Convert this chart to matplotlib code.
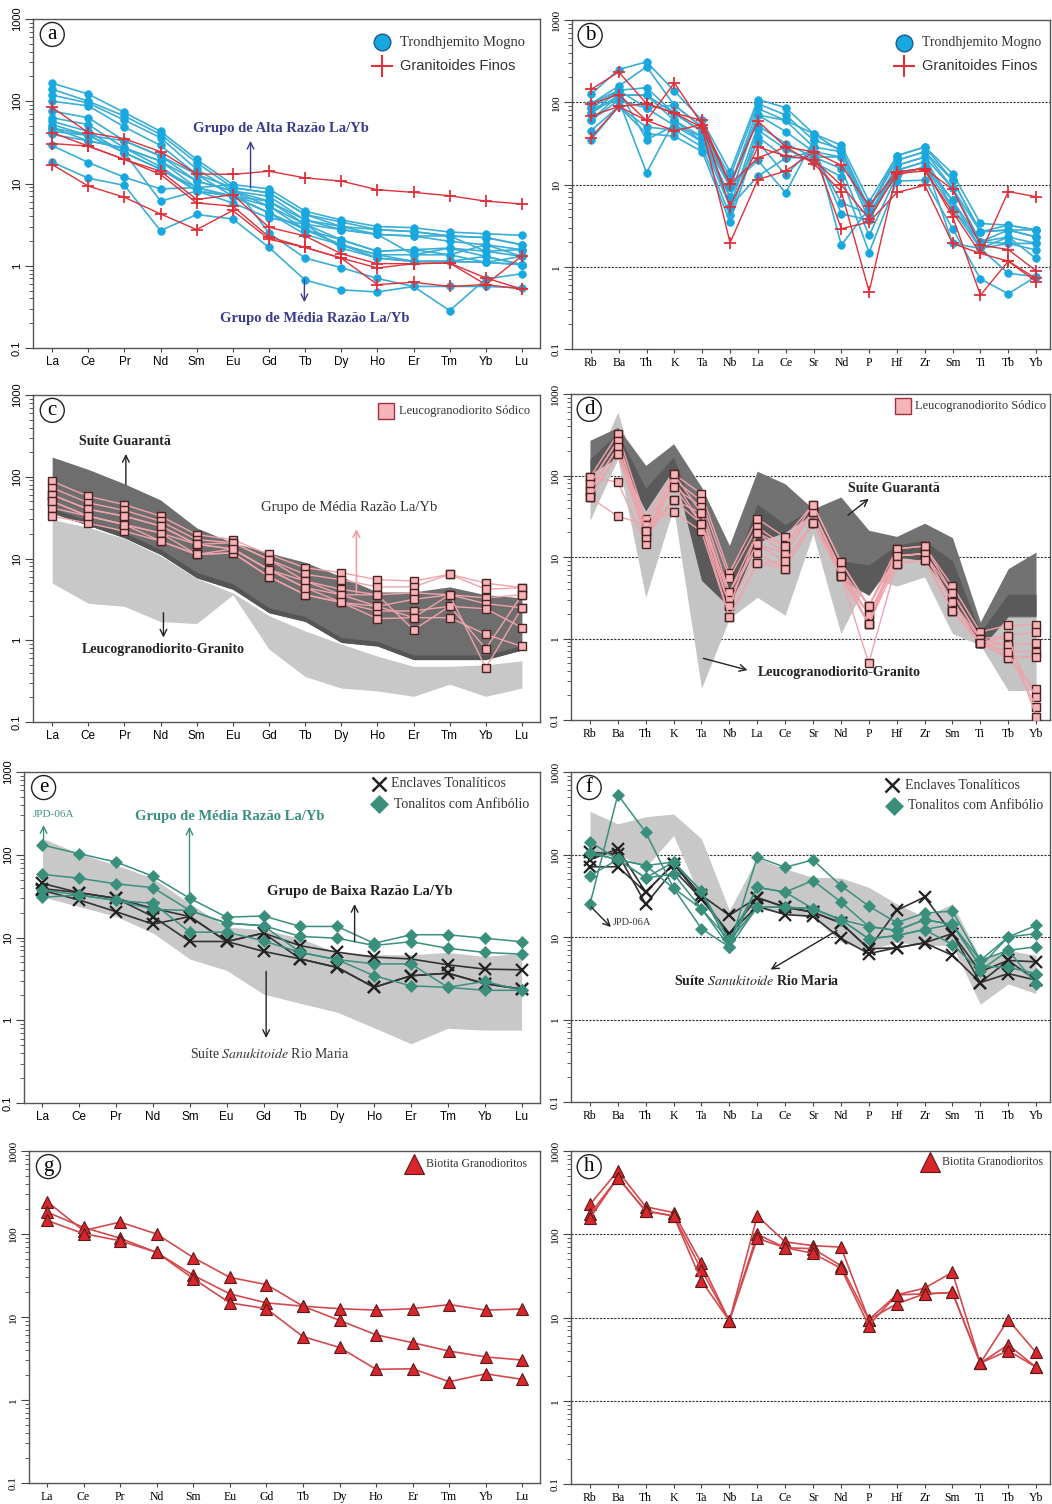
import matplotlib
matplotlib.use('Agg')
import matplotlib.pyplot as plt
from matplotlib.ticker import LogLocator, NullFormatter

# ---------------- categories ----------------
REE = ['La', 'Ce', 'Pr', 'Nd', 'Sm', 'Eu', 'Gd', 'Tb', 'Dy', 'Ho', 'Er', 'Tm', 'Yb', 'Lu']
SPIDER = ['Rb', 'Ba', 'Th', 'K', 'Ta', 'Nb', 'La', 'Ce', 'Sr', 'Nd', 'P', 'Hf', 'Zr', 'Sm', 'Ti', 'Tb', 'Yb']
YTICKS = [0.1, 1, 10, 100, 1000]
YTICKLABELS = ['0.1', '1', '10', '100', '1000']

# ---------------- (a) REE: Trondhjemito Mogno / Granitoides Finos ----------------
a_mogno = [
    [166, 122, 73, 43, 19.6, 9.7, 8.6, 4.6, 3.6, 3.0, 2.9, 2.57, 2.45, 2.34],
    [140, 100, 66, 39.5, 17.9, 8.9, 7.7, 4.2, 3.4, 2.75, 2.6, 2.3, 2.2, 1.8],
    [119, 95, 59, 36, 14.9, 8.1, 7.0, 3.6, 3.0, 2.4, 2.3, 1.98, 1.8, 1.57],
    [100, 88, 48.6, 29, 12.9, 7.0, 6.1, 3.2, 2.75, 2.4, 2.3, 2.3, 1.5, 1.3],
    [76, 63, 33, 21.6, 10.7, 8.1, 5.3, 2.75, 2.07, 1.5, 1.57, 1.64, 1.3, 1.03],
    [63, 52, 27, 18.7, 8.9, 7.0, 4.4, 2.4, 1.8, 1.36, 1.36, 1.36, 1.1, 1.03],
    [57, 43, 23.7, 14.9, 8.1, 5.8, 3.8, 3.2, 1.64, 1.24, 1.13, 1.13, 1.1, 1.3],
    [52, 38.5, 33, 21.6, 12.9, 8.9, 7.7, 4.2, 3.0, 2.75, 2.6, 2.3, 2.2, 1.8],
    [47.5, 33, 27, 18.7, 10.7, 8.1, 6.1, 3.6, 2.75, 2.4, 1.36, 1.64, 1.5, 1.57],
    [43, 38.5, 23.7, 14.9, 8.9, 7.0, 5.3, 3.2, 2.07, 1.5, 1.57, 1.36, 1.8, 1.3],
    [39.5, 33, 27, 16, 8.1, 7.0, 4.4, 2.75, 1.8, 1.36, 1.13, 1.13, 1.3, 1.03],
    [29, 18, 11.9, 8.6, 8.9, 9.7, 2.5, 1.24, 0.95, 0.7, 0.56, 0.285, 0.69, 0.8],
    [18.2, 11.6, 9.5, 2.67, 4.2, 3.7, 1.67, 0.67, 0.51, 0.48, 0.56, 0.56, 0.56, 0.54],
    [47.5, 38.5, 23.7, 6.1, 8.1, 7.0, 4.4, 2.75, 1.8, 1.24, 1.13, 1.13, 1.1, 1.03],
]
a_finos = [
    [84, 41.5, 35, 24.4, 13.1, 12.9, 14.1, 11.7, 10.7, 8.4, 7.8, 7.1, 6.1, 5.65],
    [41.5, 28.5, 19.6, 14.1, 6.4, 7.3, 2.93, 2.3, 1.4, 1.06, 1.06, 1.08, 0.71, 0.52],
    [30.6, 28.5, 19.6, 12.9, 5.8, 5.3, 2.24, 1.67, 1.24, 0.94, 1.06, 1.08, 0.59, 1.32],
    [17, 9.3, 6.8, 4.26, 2.75, 4.7, 2.1, 1.67, 1.24, 0.59, 0.63, 0.56, 0.59, 0.52],
]

# ---------------- (b) spider: Trondhjemito Mogno / Granitoides Finos ----------------
b_mogno = [
    [125, 250, 310, 137, 60, 14.3, 108, 86, 41.5, 29.9, 6.2, 22.4, 28.6, 13.6, 3.36, 3.2, 2.8],
    [96, 157, 270, 92, 50, 12.4, 96, 70, 34.6, 27, 5.1, 19.7, 25, 11.3, 2.66, 2.8, 2.3],
    [84, 140, 150, 73, 44, 9.4, 84, 60, 28.6, 25, 4.4, 17.1, 21.6, 9, 2.01, 2.3, 1.92],
    [73, 122, 122, 60, 38, 7.1, 70, 44, 25, 21.6, 3.7, 14.9, 18.8, 6.4, 1.67, 1.92, 1.6],
    [60, 106, 85, 52, 33, 5.4, 52, 31.4, 21.6, 15.6, 2.4, 13, 16.4, 5.1, 1.67, 2.3, 1.26],
    [45, 89, 50, 46, 28.6, 4.2, 46, 27, 18.8, 12.4, 1.49, 11, 11.3, 2.9, 0.71, 0.47, 0.76],
    [35, 89, 41.5, 38.6, 25, 3.5, 38, 21, 25, 6.0, 4.4, 14.9, 18.8, 1.92, 1.67, 0.83, 0.76],
    [84, 106, 13.9, 60, 33, 7.1, 33, 13, 28.6, 4.4, 3.7, 17.1, 21.6, 5.1, 2.01, 2.8, 2.3],
    [73, 140, 35, 52, 38, 9.4, 19.7, 7.9, 34.6, 1.83, 5.1, 19.7, 25, 9, 2.66, 3.2, 2.8],
    [60, 122, 122, 73, 44, 5.4, 12.6, 21, 21.6, 21.6, 4.4, 13, 16.4, 6.4, 2.01, 1.92, 1.92],
    [96, 140, 85, 92, 50, 9.4, 70, 60, 41.5, 25, 5.1, 22.4, 28.6, 11.3, 2.66, 2.8, 2.8],
]
b_finos = [
    [143, 233, 96, 74, 60, 10.1, 59, 28.6, 25, 17.1, 5.5, 14.3, 15.6, 8.7, 1.83, 1.62, 0.89],
    [96, 124, 60, 172, 53.6, 5.4, 28.6, 22.2, 20, 9.8, 3.86, 13.6, 14.6, 4.66, 1.45, 8.2, 7.1],
    [68, 89, 96, 74, 49, 1.96, 11.5, 14.6, 25, 2.9, 3.5, 8.0, 9.8, 1.92, 1.45, 1.17, 0.72],
    [37, 89, 60, 45, 53.6, 10.1, 21, 28.6, 18, 8.2, 0.50, 14.3, 15.6, 4.06, 0.45, 1.17, 0.66],
]

# ---------------- (c) REE: Leucogranodiorito Sodico + fields ----------------
c_guaranta_hi = [174, 123, 82, 52, 23.7, 15.6, 11.7, 9.0, 6.0, 3.9, 3.9, 4.5, 3.6, 3.3]
c_guaranta_lo = [36, 25.5, 17.9, 11.2, 5.8, 4.2, 2.17, 1.7, 0.94, 0.85, 0.58, 0.58, 0.58, 0.76]
c_guaranta_base = [41, 29, 20.5, 13, 6.8, 4.9, 2.5, 1.95, 1.08, 0.97, 0.66, 0.66, 0.66, 0.86]
c_leuco_hi = [30, 24, 17.5, 10.8, 5.7, 3.8, 2.0, 1.3, 0.9, 0.64, 0.48, 0.48, 0.5, 0.56]
c_leuco_lo = [5.0, 2.83, 2.6, 1.69, 1.6, 3.6, 0.78, 0.36, 0.26, 0.24, 0.206, 0.29, 0.206, 0.26]
c_sodico = [
    [88, 57.6, 45.6, 33, 19.6, 17, 11.2, 7.7, 6.7, 5.5, 5.3, 6.4, 5.0, 4.4],
    [73, 48, 38.8, 28.6, 17, 15.6, 9.7, 6.4, 5.5, 4.5, 4.5, 6.4, 4.2, 4.4],
    [60, 40, 33, 25, 14.9, 13.1, 7.3, 5.3, 4.2, 3.6, 3.8, 3.6, 3.3, 3.6],
    [50, 33, 26, 20.5, 14.9, 13.1, 7.3, 4.4, 3.6, 2.6, 3.16, 3.6, 2.8, 2.5],
    [41.5, 33, 26, 20.5, 11.2, 11.7, 6.0, 3.6, 2.9, 2.28, 2.28, 2.6, 2.43, 1.43],
    [33, 27, 21.6, 16.3, 11.2, 11.7, 6.0, 3.6, 2.9, 1.84, 1.89, 1.89, 1.18, 0.84],
    [60, 40, 33, 25, 14.9, 15.6, 9.7, 5.3, 3.6, 3.6, 1.34, 2.6, 0.79, 3.6],
    [50, 33, 26, 16.3, 11.2, 13.1, 7.3, 4.4, 2.9, 2.6, 1.89, 3.6, 0.46, 2.5],
]

# ---------------- (d) spider: Leucogranodiorito Sodico + fields ----------------
d_guaranta_hi = [270, 390, 133, 245, 72, 13.9, 113, 79, 39, 54.5, 21.3, 17.9, 26, 17.3, 1.6, 7.2, 11.5]
d_guaranta_lo = [105, 167, 37, 139, 5.2, 2.44, 15.2, 20.2, 34, 5.2, 3.4, 10, 9.1, 3.2, 0.75, 1.84, 1.84]
d_core_hi = [160, 330, 70, 170, 20, 5.0, 45, 25, 40, 9.0, 8.0, 14, 16, 9.0, 1.2, 3.5, 3.5]
d_core_lo = [105, 170, 37, 120, 5.2, 2.44, 15.2, 20.2, 34, 5.5, 3.4, 10, 9.1, 3.2, 0.75, 1.9, 1.9]
d_leuco_hi = [100, 600, 40, 175, 40, 3.5, 45, 22, 38, 10, 6, 12, 12, 9, 1.1, 2.0, 2.0]
d_leuco_lo = [28, 160, 3.2, 40, 0.245, 1.76, 3.2, 1.93, 19.3, 1.15, 5.5, 4.4, 5.7, 1.15, 0.83, 0.23, 0.23]
d_sodico = [
    [95, 325, 29.5, 105, 59.5, 6.4, 29.5, 17.5, 44, 8.7, 2.5, 12.6, 13.6, 4.4, 1.2, 1.46, 1.46],
    [79, 268, 25, 89, 48.5, 5.5, 23.3, 13.6, 36, 7.0, 1.97, 10.3, 11, 3.6, 1.0, 1.07, 1.2],
    [65, 222, 21, 73, 41, 3.7, 19.7, 11, 36, 5.9, 1.5, 10.3, 11, 2.8, 0.87, 0.83, 0.88],
    [54, 184, 17.5, 50, 34.5, 3.1, 14.3, 8.85, 26.3, 5.9, 0.5, 8.3, 9.1, 2.2, 0.87, 0.69, 0.69],
    [95, 83, 14.6, 89, 25.6, 2.5, 11.2, 7.2, 26.3, 7.0, 2.5, 10.3, 11, 2.8, 1.0, 0.58, 0.6],
    [54, 31.5, 25, 36, 20.6, 1.84, 8.4, 7.2, 26.3, 5.9, 1.97, 8.3, 9.1, 2.2, 0.87, 0.58, 0.24],
    [79, 268, 21, 73, 25.6, 3.7, 14.3, 11, 36, 7.0, 1.5, 12.6, 13.6, 3.6, 1.0, 0.83, 0.19],
    [65, 222, 17.5, 105, 34.5, 2.5, 19.7, 13.6, 44, 8.7, 2.5, 10.3, 11, 2.8, 0.87, 0.69, 0.146],
    [54, 184, 21, 50, 25.6, 1.84, 8.4, 8.85, 26.3, 5.9, 1.5, 8.3, 9.1, 2.2, 0.87, 1.07, 0.11],
]

# ---------------- (e) REE: Enclaves / Tonalitos com Anfibolio ----------------
e_rio_maria_hi = [158, 103, 75, 52, 25.7, 13.4, 12.4, 9.8, 6.5, 6.2, 6.2, 6.6, 5.9, 6.5]
e_rio_maria_lo = [31, 23.6, 18, 11.3, 5.5, 4.0, 2.07, 1.6, 1.25, 0.81, 0.52, 0.8, 0.76, 0.76]
e_tonalitos = [
    [131, 103, 81.5, 55, 29.7, 17.6, 18.2, 13.6, 13.6, 8.5, 10.8, 10.8, 9.8, 8.9],
    [58, 52, 44.5, 40, 21.2, 14.9, 13.9, 10.3, 9.8, 8.0, 8.9, 7.4, 6.6, 6.3],
    [37.5, 32.6, 28, 25.9, 11.6, 11.6, 9.1, 6.6, 5.4, 3.45, 2.6, 2.5, 2.3, 2.3],
    [30.6, 32.6, 28, 21.9, 21.2, 14.9, 13.9, 6.6, 5.4, 4.8, 4.8, 2.5, 2.95, 2.3],
]
e_enclaves = [
    [45, 34.8, 29.7, 22.5, 17.9, 8.95, 11.3, 7.95, 6.65, 5.8, 5.5, 4.68, 4.15, 4.07],
    [39, 34.8, 29.7, 17.9, 8.95, 8.95, 6.8, 5.5, 4.35, 2.5, 3.45, 3.7, 2.77, 2.38],
    [37, 28.4, 20.5, 14.5, 17.9, 8.95, 11.3, 5.5, 4.35, 2.5, 3.45, 3.7, 2.77, 2.38],
]

# ---------------- (f) spider: Enclaves / Tonalitos com Anfibolio ----------------
f_rio_maria_hi = [334, 235, 287, 310, 155, 21, 91, 67, 53, 52, 40, 25.3, 17.5, 25.3, 5.5, 6.9, 6.0]
f_rio_maria_lo = [92.6, 100, 70, 170, 27.8, 8.9, 22, 19.2, 17.5, 8.7, 6.9, 8.7, 7.9, 7.9, 1.53, 2.7, 2.06]
f_tonalitos = [
    [25, 530, 186, 39, 12.6, 7.6, 93, 70, 86, 42, 23.7, 14.9, 19.5, 20.6, 5.2, 10, 13.8],
    [143, 87, 73.5, 81, 35.7, 9.1, 40, 35, 48.4, 26.6, 13.4, 12, 16.2, 14.2, 4.4, 10, 11],
    [104, 87, 52, 58, 22, 7.6, 23, 23, 22, 16.2, 9.5, 10.4, 12.3, 8.1, 3.9, 6.9, 7.6],
    [55.6, 87, 73.5, 39, 22, 9.1, 23, 23, 22, 16.2, 9.5, 10.4, 12.3, 14.2, 4.4, 4.3, 3.6],
    [104, 87, 52, 81, 35.7, 7.6, 40, 35, 22, 16.2, 13.4, 12, 16.2, 14.2, 5.2, 6.9, 2.7],
]
f_enclaves = [
    [86, 117, 35, 77, 32, 18.3, 30, 23, 20, 14.8, 7.2, 21, 30.5, 11, 3.8, 5.2, 5.0],
    [106, 102, 25, 65, 29, 11, 23.5, 18.7, 17.8, 9.6, 6.3, 7.4, 8.5, 11, 2.8, 3.6, 3.0],
    [71, 71, 35, 77, 29, 11, 30, 23, 20, 14.8, 7.2, 7.4, 8.5, 6.0, 2.8, 5.2, 3.0],
]

# ---------------- (g) / (h) Biotita Granodioritos ----------------
g_biotita = [
    [246, 110, 139, 100, 52, 30, 24.6, 13.5, 9.1, 6.1, 4.9, 3.88, 3.3, 3.03],
    [184, 120, 89, 60, 31.8, 19, 14.8, 13.5, 12.6, 12.1, 12.6, 14.1, 12.1, 12.5],
    [146, 101, 83, 60, 29, 14.8, 12.6, 5.8, 4.3, 2.34, 2.38, 1.66, 2.07, 1.77],
]
h_biotita = [
    [228, 575, 214, 182, 44.8, 9.1, 166, 81, 73, 70, 9.4, 18.7, 22.5, 35, 2.83, 9.4, 3.8],
    [174, 478, 190, 166, 37.3, 9.1, 100, 69, 67, 42, 9.4, 14.6, 19.2, 20, 2.83, 4.7, 2.53],
    [156, 478, 190, 166, 27.5, 9.1, 89, 69, 59, 39, 8.0, 18.7, 19.2, 20, 2.83, 4.0, 2.53],
]

# ---------------- figure ----------------
W, H = 1052, 1504
fig = plt.figure(figsize=(W / 100, H / 100), dpi=100)
SERIF = ['Liberation Serif', 'DejaVu Serif']
SANS = ['Liberation Sans', 'DejaVu Sans']


def box(x0, y0, x1, y1):
    return [x0 / W, 1 - y1 / H, (x1 - x0) / W, (y1 - y0) / H]


def make_ax(rect, labels, xfont, yfont, grid, letter):
    ax = fig.add_axes(box(*rect))
    ax.set_yscale('log')
    ax.set_ylim(0.1, 1000)
    n = len(labels)
    if n == 14:
        ax.set_xlim(-0.53, 13.5)
    else:
        ax.set_xlim(-0.68, 16.5)
    ax.set_xticks(range(n))
    ax.set_xticklabels(labels, family=xfont, fontsize=8.5)
    ax.set_yticks(YTICKS)
    ax.set_yticklabels(YTICKLABELS, rotation=90, va='center', family=yfont, fontsize=8)
    ax.yaxis.set_minor_locator(LogLocator(base=10, subs=range(2, 10)))
    ax.yaxis.set_minor_formatter(NullFormatter())
    ax.tick_params(axis='y', which='major', length=6, width=0.8, pad=2, color='#444444')
    ax.tick_params(axis='y', which='minor', length=3, width=0.6, color='#444444')
    ax.tick_params(axis='x', length=3, width=0.8, pad=3, color='#444444')
    for s in ax.spines.values():
        s.set_color('#555555')
        s.set_linewidth(1.0)
    if grid:
        for g in (1, 10, 100):
            ax.axhline(g, color='#333333', lw=0.8, ls=(0, (2, 1.2)), zorder=1)
    ax.text(0.038, 0.953, letter, transform=ax.transAxes, ha='center', va='center',
            fontsize=15, family=SERIF, zorder=10,
            bbox=dict(boxstyle='circle,pad=0.12', fc='white', ec='#222222', lw=1.0))
    return ax


def series(ax, data, color, marker, ms, mfc, mec, mew=1.0, lw=1.0, z=3):
    for row in data:
        ax.plot(range(len(row)), row, color=color, lw=lw, marker=marker, ms=ms,
                mfc=mfc, mec=mec, mew=mew, zorder=z)


def legend_item(ax, x, y, marker, ms, mfc, mec, mew, text, tx, fs, fam, color='#333333'):
    ax.plot([x], [y], transform=ax.transAxes, marker=marker, ms=ms, mfc=mfc, mec=mec,
            mew=mew, ls='none', clip_on=False, zorder=11)
    ax.text(tx, y, text, transform=ax.transAxes, ha='left', va='center', fontsize=fs,
            family=fam, color=color, zorder=11)


def arrow(ax, x0, y0, x1, y1, color='#222222', lw=1.0):
    ax.annotate('', xy=(x1, y1), xytext=(x0, y0),
                arrowprops=dict(arrowstyle='->', color=color, lw=lw,
                                mutation_scale=12, shrinkA=0, shrinkB=0), zorder=9)


CYAN_L, CYAN_M = '#3aaed6', '#18a8e0'
RED = '#e0303a'
PINK_L, PINK_F, PINK_E = '#f0a3aa', '#f5b4b8', '#4a2222'
GREEN_L, GREEN_M = '#3b8f7f', '#3a8f7c'
BLACK = '#222222'
TRI_L, TRI_F, TRI_E = '#d34a4e', '#d9262c', '#5a1a1a'
NAVY = '#3b3b8c'

# ---------- (a) ----------
ax = make_ax((33, 19, 540, 348), REE, SANS, SANS, False, 'a')
series(ax, a_mogno, CYAN_L, 'o', 5.5, CYAN_M, CYAN_M, 0.5, 1.2)
series(ax, a_finos, RED, '+', 9, RED, RED, 1.3, 1.0, z=4)
legend_item(ax, 0.688, 0.930, 'o', 12, CYAN_M, '#1c5c90', 1.0, 'Trondhjemito Mogno', 0.724, 10.5, SERIF)
legend_item(ax, 0.688, 0.857, '+', 16, RED, RED, 1.5, 'Granitoides Finos', 0.724, 10.5, SANS)
ax.text(6.33, 46, 'Grupo de Alta Razão La/Yb', ha='center', va='center', fontsize=10.5,
        family=SERIF, weight='bold', color=NAVY)
arrow(ax, 5.49, 8.8, 5.49, 33, NAVY)
ax.text(7.26, 0.23, 'Grupo de Média Razão La/Yb', ha='center', va='center', fontsize=10.5,
        family=SERIF, weight='bold', color=NAVY)
arrow(ax, 6.98, 0.69, 6.98, 0.36, NAVY)

# ---------- (b) ----------
ax = make_ax((572, 20, 1050, 349), SPIDER, SERIF, SERIF, True, 'b')
series(ax, b_mogno, CYAN_L, 'o', 5.5, CYAN_M, CYAN_M, 0.5, 1.2)
series(ax, b_finos, RED, '+', 9, RED, RED, 1.3, 1.0, z=4)
legend_item(ax, 0.695, 0.931, 'o', 12, CYAN_M, '#1c5c90', 1.0, 'Trondhjemito Mogno', 0.732, 10, SERIF)
legend_item(ax, 0.695, 0.860, '+', 16, RED, RED, 1.5, 'Granitoides Finos', 0.732, 10.5, SANS)

# ---------- (c) ----------
ax = make_ax((33, 395, 540, 722), REE, SANS, SANS, False, 'c')
x14 = range(len(REE))
ax.fill_between(x14, c_leuco_lo, c_leuco_hi, color='#c8c8c8', lw=0, zorder=1)
ax.fill_between(x14, c_guaranta_lo, c_guaranta_hi, color='#6e6e6e', lw=0, zorder=1.5)
ax.fill_between(x14, c_guaranta_lo, c_guaranta_base, color='#555555', lw=0, zorder=1.6)
series(ax, c_sodico, PINK_L, 's', 6, PINK_F, PINK_E, 1.0, 1.0)
legend_item(ax, 0.697, 0.952, 's', 11, PINK_F, '#a03040', 1.0, 'Leucogranodiorito Sódico', 0.722, 9, SERIF)
ax.text(2.02, 269, 'Suíte Guarantã', ha='center', va='center', fontsize=10, family=SERIF, weight='bold', color='#222222')
arrow(ax, 2.04, 80, 2.04, 190)
ax.text(8.22, 41.6, 'Grupo de Média Razão La/Yb', ha='center', va='center', fontsize=10.5, family=SERIF, color='#333333')
arrow(ax, 8.42, 3.8, 8.42, 23, '#f0a0a8', 1.2)
ax.text(3.08, 0.76, 'Leucogranodiorito-Granito', ha='center', va='center', fontsize=10, family=SERIF, weight='bold', color='#222222')
arrow(ax, 3.08, 2.17, 3.08, 1.08)

# ---------- (d) ----------
ax = make_ax((571, 394, 1050, 720), SPIDER, SERIF, SERIF, True, 'd')
x17 = range(len(SPIDER))
ax.fill_between(x17, d_leuco_lo, d_leuco_hi, color='#c4c4c4', lw=0, zorder=1.2)
ax.fill_between(x17, d_guaranta_lo, d_guaranta_hi, color='#727272', lw=0, zorder=1.5)
ax.fill_between(x17, d_core_lo, d_core_hi, color='#5a5a5a', lw=0, zorder=1.6)
series(ax, d_sodico, PINK_L, 's', 6, PINK_F, PINK_E, 1.0, 1.0)
legend_item(ax, 0.693, 0.963, 's', 11, PINK_F, '#a03040', 1.0, 'Leucogranodiorito Sódico', 0.718, 9, SERIF)
ax.text(10.9, 68.7, 'Suíte Guarantã', ha='center', va='center', fontsize=10, family=SERIF, weight='bold', color='#222222', zorder=8)
arrow(ax, 9.25, 32.4, 10.0, 51.8)
ax.text(8.94, 0.384, 'Leucogranodiorito-Granito', ha='center', va='center', fontsize=10, family=SERIF, weight='bold', color='#222222')
arrow(ax, 4.07, 0.57, 5.65, 0.41)

# ---------- (e) ----------
ax = make_ax((24, 772, 540, 1103), REE, SANS, SANS, False, 'e')
ax.set_xlim(-0.5, 13.5)
ax.fill_between(x14, e_rio_maria_lo, e_rio_maria_hi, color='#c8c8c8', lw=0, zorder=1)
series(ax, e_enclaves, '#333333', 'x', 9, BLACK, BLACK, 1.6, 1.2, z=3)
series(ax, e_tonalitos, GREEN_L, 'D', 6, GREEN_M, GREEN_M, 0.5, 1.1, z=4)
legend_item(ax, 0.688, 0.964, 'x', 10, BLACK, BLACK, 1.8, 'Enclaves Tonalíticos', 0.712, 10, SERIF)
legend_item(ax, 0.688, 0.902, 'D', 9, GREEN_M, GREEN_M, 0.5, 'Tonalitos com Anfibólio', 0.718, 10, SERIF)
ax.text(-0.27, 306, 'JPD-06A', ha='left', va='center', fontsize=8, family=SERIF, color=GREEN_L)
arrow(ax, 0.03, 150, 0.03, 228, GREEN_L)
ax.text(5.09, 292, 'Grupo de Média Razão La/Yb', ha='center', va='center', fontsize=10.5, family=SERIF, weight='bold', color=GREEN_L)
arrow(ax, 3.99, 28.5, 3.99, 218, GREEN_L)
ax.text(8.61, 35.8, 'Grupo de Baixa Razão La/Yb', ha='center', va='center', fontsize=10.5, family=SERIF, weight='bold', color='#222222')
arrow(ax, 8.47, 8.94, 8.47, 25.4)
ax.text(6.18, 0.386, 'Suíte $\\it{Sanukitoide}$ Rio Maria', ha='center', va='center', fontsize=10,
        family=SERIF, color='#333333', math_fontfamily='stix')
arrow(ax, 6.07, 3.9, 6.07, 0.61)

# ---------- (f) ----------
ax = make_ax((571, 772, 1050, 1102), SPIDER, SERIF, SERIF, True, 'f')
ax.fill_between(x17, f_rio_maria_lo, f_rio_maria_hi, color='#c8c8c8', lw=0, zorder=1.2)
series(ax, f_enclaves, '#333333', 'x', 9, BLACK, BLACK, 1.6, 1.2, z=3)
series(ax, f_tonalitos, GREEN_L, 'D', 6, GREEN_M, GREEN_M, 0.5, 1.1, z=4)
legend_item(ax, 0.670, 0.960, 'x', 10, BLACK, BLACK, 1.8, 'Enclaves Tonalíticos', 0.697, 10, SERIF)
legend_item(ax, 0.674, 0.898, 'D', 9, GREEN_M, GREEN_M, 0.5, 'Tonalitos com Anfibólio', 0.704, 10, SERIF)
ax.text(0.8, 14.8, 'JPD-06A', ha='left', va='center', fontsize=7.5, family=SERIF, color='#333333')
arrow(ax, 0.05, 23, 0.75, 13.2)
ax.text(6.0, 2.94, 'Suíte $\\bf{\\it{Sanukitoide}}$ Rio Maria', ha='center', va='center', fontsize=10,
        family=SERIF, weight='bold', color='#222222', math_fontfamily='stix')
arrow(ax, 8.86, 12, 6.48, 4.03)

# ---------- (g) ----------
ax = make_ax((29, 1151, 540, 1483), REE, SERIF, SERIF, False, 'g')
ax.set_xlim(-0.49, 13.48)
series(ax, g_biotita, TRI_L, '^', 8, TRI_F, TRI_E, 0.8, 1.2)
legend_item(ax, 0.753, 0.961, '^', 14, TRI_F, TRI_E, 0.8, 'Biotita Granodioritos', 0.777, 8.5, SERIF)

# ---------- (h) ----------
ax = make_ax((571, 1151, 1050, 1484), SPIDER, SERIF, SERIF, True, 'h')
series(ax, h_biotita, TRI_L, '^', 8, TRI_F, TRI_E, 0.8, 1.2)
legend_item(ax, 0.749, 0.967, '^', 14, TRI_F, TRI_E, 0.8, 'Biotita Granodioritos', 0.775, 8.5, SERIF)

fig.savefig('out.png', dpi=100, facecolor='white')
